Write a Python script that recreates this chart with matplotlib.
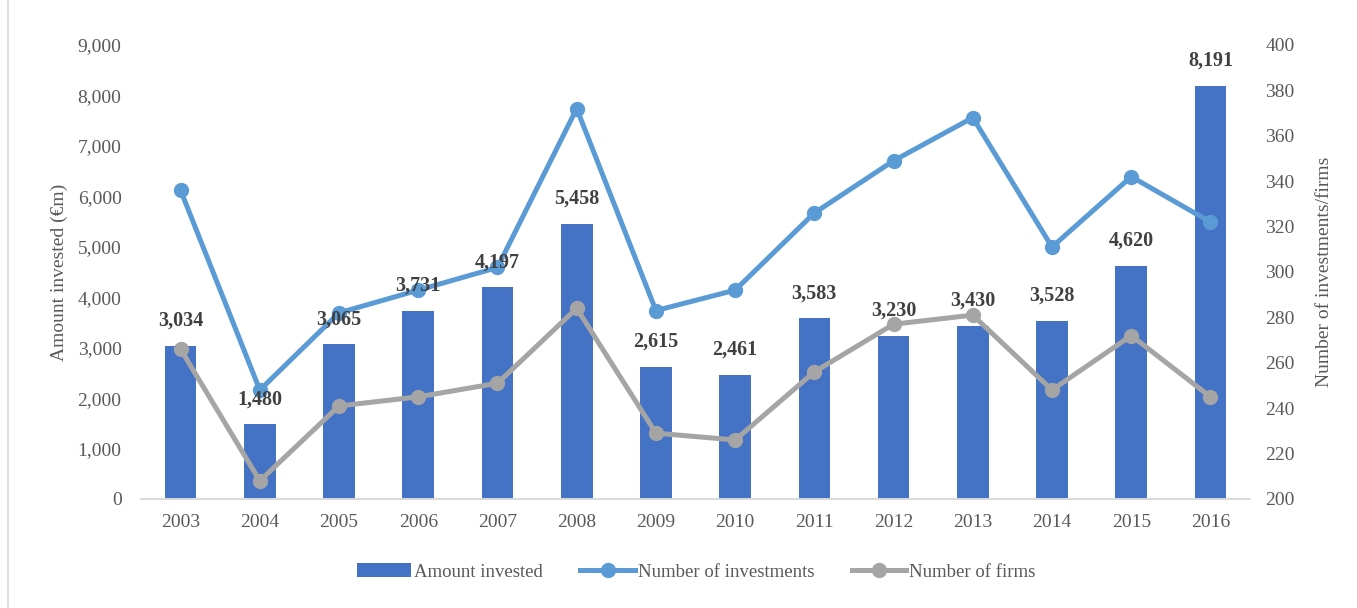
import numpy as np
import matplotlib
matplotlib.use("Agg")
import matplotlib.pyplot as plt
from matplotlib.lines import Line2D

FONT = "Liberation Serif"
TICK_COLOR = "#595959"

years = ["2003", "2004", "2005", "2006", "2007", "2008", "2009",
         "2010", "2011", "2012", "2013", "2014", "2015", "2016"]
amount = [3034, 1480, 3065, 3731, 4197, 5458, 2615,
          2461, 3583, 3230, 3430, 3528, 4620, 8191]
n_investments = [336, 248, 282, 292, 302, 372, 283,
                 292, 326, 349, 368, 311, 342, 322]
n_firms = [266, 208, 241, 245, 251, 284, 229,
           226, 256, 277, 281, 248, 272, 245]

plt.rcParams["font.family"] = [FONT, "DejaVu Serif"]

fig = plt.figure(figsize=(13.57, 6.08), dpi=100)
ax = fig.add_axes([0.1039, 0.1793, 0.8173, 0.7467])
ax2 = ax.twinx()

x = np.arange(len(years))
ax.bar(x, amount, width=0.4, color="#4472C4", label="Amount invested", zorder=2)

ax2.plot(x, n_investments, color="#5B9BD5", lw=3.6, marker="o", ms=10,
         label="Number of investments", solid_joinstyle="round")
ax2.plot(x, n_firms, color="#A5A5A5", lw=3.6, marker="o", ms=10,
         label="Number of firms", solid_joinstyle="round")

# value labels above each bar, kept on top of the lines
for i, v in enumerate(amount):
    ax2.annotate("{:,}".format(v), xy=(i, v), xycoords=ax.transData,
                 xytext=(0, 18), textcoords="offset points",
                 ha="center", va="center", fontsize=14.5, fontweight="bold",
                 color="#404040", zorder=6)

ax.set_xlim(-0.5, len(years) - 0.5)
ax.set_ylim(0, 9000)
ax.set_yticks(np.arange(0, 9001, 1000))
ax.set_yticklabels(["{:,}".format(t) for t in range(0, 9001, 1000)])
ax.set_xticks(x)
ax.set_xticklabels(years)
ax2.set_ylim(200, 400)
ax2.set_yticks(np.arange(200, 401, 20))

for a in (ax, ax2):
    for side in ("top", "left", "right"):
        a.spines[side].set_visible(False)
    a.spines["bottom"].set_color("#D9D9D9")
    a.spines["bottom"].set_linewidth(1.2)
    a.tick_params(axis="both", length=0, labelsize=14, colors=TICK_COLOR)

ax.tick_params(axis="y", pad=14)
ax.tick_params(axis="x", pad=11)
ax2.tick_params(axis="y", pad=11)

ax.set_ylabel("Amount invested (€m)", fontsize=14, color=TICK_COLOR, labelpad=7)
ax2.set_ylabel("Number of investments/firms", fontsize=14, color=TICK_COLOR,
               labelpad=15, rotation=90)

handles = [ax.patches[0]] + ax2.get_lines()
labels = ["Amount invested", "Number of investments", "Number of firms"]
leg = fig.legend(handles, labels, loc="center", bbox_to_anchor=(0.513, 1 - 572 / 608),
                 ncol=3, frameon=False, fontsize=13.5, handlelength=2.9,
                 handletextpad=0.15, columnspacing=2.0)
for t in leg.get_texts():
    t.set_color(TICK_COLOR)

# outer chart frame edge
fig.add_artist(Line2D([8 / 1357, 8 / 1357], [0, 1], transform=fig.transFigure,
                      color="#D9D9D9", lw=1.2))

fig.savefig("out.png", dpi=100, facecolor="white")
